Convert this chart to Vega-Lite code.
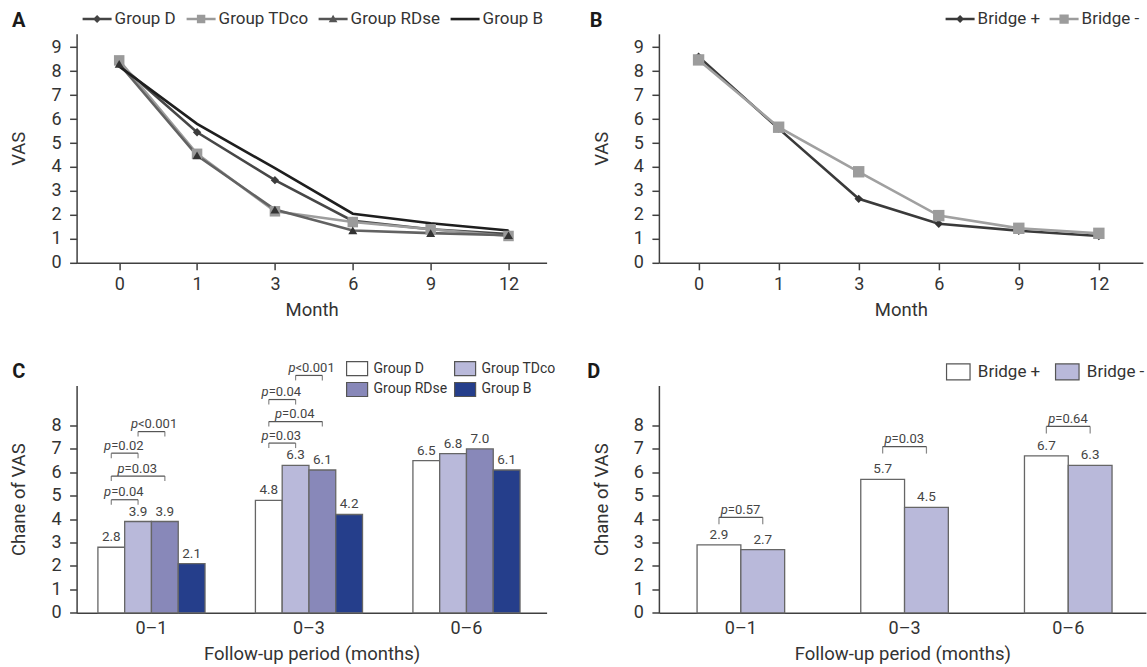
{
"$schema": "https://vega.github.io/schema/vega-lite/v6.json",
"background": "white",
"padding": {"left": 9.6, "top": 3.8, "right": 2, "bottom": 2},
"config": {
 "font": "Roboto",
 "view": {"stroke": null},
 "axis": {"domainColor": "#404040", "domainWidth": 1.5, "tickColor": "#404040", "tickWidth": 1.5, "tickSize": 7, "labelFontSize": 18, "labelColor": "#333333", "titleFontSize": 18.5, "titleFontWeight": "normal", "titleColor": "#333333", "grid": false, "labelPadding": 6, "labelFont": "Roboto", "titleFont": "Roboto"},
 "axisY": {"titlePadding": 22, "labelPadding": 8.5},
 "axisX": {"labelAngle": 0, "titlePadding": 7},
 "title": {"font": "Roboto", "fontSize": 20, "fontWeight": "bold", "color": "#1a1a1a"},
 "legend": {"labelFont": "Roboto", "labelColor": "#333333", "padding": 0},
 "text": {"font": "Roboto"}
},
"datasets": {
 "lineA": [
  {"month": 0, "group": "Group D", "vas": 8.3}, {"month": 1, "group": "Group D", "vas": 5.45}, {"month": 3, "group": "Group D", "vas": 3.45}, {"month": 6, "group": "Group D", "vas": 1.75}, {"month": 9, "group": "Group D", "vas": 1.4}, {"month": 12, "group": "Group D", "vas": 1.2},
  {"month": 0, "group": "Group TDco", "vas": 8.45}, {"month": 1, "group": "Group TDco", "vas": 4.55}, {"month": 3, "group": "Group TDco", "vas": 2.15}, {"month": 6, "group": "Group TDco", "vas": 1.7}, {"month": 9, "group": "Group TDco", "vas": 1.4}, {"month": 12, "group": "Group TDco", "vas": 1.12},
  {"month": 0, "group": "Group RDse", "vas": 8.3}, {"month": 1, "group": "Group RDse", "vas": 4.48}, {"month": 3, "group": "Group RDse", "vas": 2.22}, {"month": 6, "group": "Group RDse", "vas": 1.35}, {"month": 9, "group": "Group RDse", "vas": 1.24}, {"month": 12, "group": "Group RDse", "vas": 1.15},
  {"month": 0, "group": "Group B", "vas": 8.2}, {"month": 1, "group": "Group B", "vas": 5.8}, {"month": 3, "group": "Group B", "vas": 3.95}, {"month": 6, "group": "Group B", "vas": 2.05}, {"month": 9, "group": "Group B", "vas": 1.65}, {"month": 12, "group": "Group B", "vas": 1.35}
 ],
 "lineB": [
  {"month": 0, "group": "Bridge +", "vas": 8.6}, {"month": 1, "group": "Bridge +", "vas": 5.6}, {"month": 3, "group": "Bridge +", "vas": 2.67}, {"month": 6, "group": "Bridge +", "vas": 1.63}, {"month": 9, "group": "Bridge +", "vas": 1.34}, {"month": 12, "group": "Bridge +", "vas": 1.12},
  {"month": 0, "group": "Bridge -", "vas": 8.47}, {"month": 1, "group": "Bridge -", "vas": 5.66}, {"month": 3, "group": "Bridge -", "vas": 3.8}, {"month": 6, "group": "Bridge -", "vas": 1.97}, {"month": 9, "group": "Bridge -", "vas": 1.44}, {"month": 12, "group": "Bridge -", "vas": 1.23}
 ],
 "barC": [
  {"period": "0–1", "group": "Group D", "value": 2.8}, {"period": "0–1", "group": "Group TDco", "value": 3.9}, {"period": "0–1", "group": "Group RDse", "value": 3.9}, {"period": "0–1", "group": "Group B", "value": 2.1},
  {"period": "0–3", "group": "Group D", "value": 4.8}, {"period": "0–3", "group": "Group TDco", "value": 6.3}, {"period": "0–3", "group": "Group RDse", "value": 6.1}, {"period": "0–3", "group": "Group B", "value": 4.2},
  {"period": "0–6", "group": "Group D", "value": 6.5}, {"period": "0–6", "group": "Group TDco", "value": 6.8}, {"period": "0–6", "group": "Group RDse", "value": 7.0}, {"period": "0–6", "group": "Group B", "value": 6.1}
 ],
 "brC": [
  {"id": 1, "period": "0–1", "group": "Group D", "value": 4.83}, {"id": 1, "period": "0–1", "group": "Group TDco", "value": 4.83},
  {"id": 2, "period": "0–1", "group": "Group D", "value": 5.84}, {"id": 2, "period": "0–1", "group": "Group RDse", "value": 5.84},
  {"id": 3, "period": "0–1", "group": "Group D", "value": 6.82}, {"id": 3, "period": "0–1", "group": "Group TDco", "value": 6.82},
  {"id": 4, "period": "0–1", "group": "Group TDco", "value": 7.74}, {"id": 4, "period": "0–1", "group": "Group RDse", "value": 7.74},
  {"id": 5, "period": "0–3", "group": "Group D", "value": 7.25}, {"id": 5, "period": "0–3", "group": "Group TDco", "value": 7.25},
  {"id": 6, "period": "0–3", "group": "Group D", "value": 8.17}, {"id": 6, "period": "0–3", "group": "Group RDse", "value": 8.17},
  {"id": 7, "period": "0–3", "group": "Group D", "value": 9.11}, {"id": 7, "period": "0–3", "group": "Group TDco", "value": 9.11},
  {"id": 8, "period": "0–3", "group": "Group TDco", "value": 10.14}, {"id": 8, "period": "0–3", "group": "Group RDse", "value": 10.14}
 ],
 "lbC": [
  {"period": "0–1", "group": "Group D", "value": 4.83, "span": 1, "op": "=0.04"},
  {"period": "0–1", "group": "Group TDco", "value": 5.84, "span": 2, "op": "=0.03"},
  {"period": "0–1", "group": "Group D", "value": 6.82, "span": 1, "op": "=0.02"},
  {"period": "0–1", "group": "Group TDco", "value": 7.74, "span": 1, "op": "<0.001"},
  {"period": "0–3", "group": "Group D", "value": 7.25, "span": 1, "op": "=0.03"},
  {"period": "0–3", "group": "Group TDco", "value": 8.17, "span": 2, "op": "=0.04"},
  {"period": "0–3", "group": "Group D", "value": 9.11, "span": 1, "op": "=0.04"},
  {"period": "0–3", "group": "Group TDco", "value": 10.14, "span": 1, "op": "<0.001"}
 ],
 "barD": [
  {"period": "0–1", "group": "Bridge +", "value": 2.9}, {"period": "0–1", "group": "Bridge -", "value": 2.7},
  {"period": "0–3", "group": "Bridge +", "value": 5.7}, {"period": "0–3", "group": "Bridge -", "value": 4.5},
  {"period": "0–6", "group": "Bridge +", "value": 6.7}, {"period": "0–6", "group": "Bridge -", "value": 6.3}
 ],
 "brD": [
  {"id": 1, "period": "0–1", "group": "Bridge +", "value": 4.08}, {"id": 1, "period": "0–1", "group": "Bridge -", "value": 4.08},
  {"id": 2, "period": "0–3", "group": "Bridge +", "value": 7.1}, {"id": 2, "period": "0–3", "group": "Bridge -", "value": 7.1},
  {"id": 3, "period": "0–6", "group": "Bridge +", "value": 7.96}, {"id": 3, "period": "0–6", "group": "Bridge -", "value": 7.96}
 ],
 "lbD": [
  {"period": "0–1", "value": 4.08, "op": "=0.57"},
  {"period": "0–3", "value": 7.1, "op": "=0.03"},
  {"period": "0–6", "value": 7.96, "op": "=0.64"}
 ]
},
"bounds": "flush",
"columns": 2,
"spacing": {"row": 122.7, "column": 112.3},
"resolve": {
 "scale": {"color": "independent", "shape": "independent", "stroke": "independent", "xOffset": "independent", "x": "independent", "y": "independent"},
 "legend": {"color": "independent", "shape": "independent"}
},
"concat": [
  {
   "width": 470, "height": 229,
   "title": {"text": "A", "orient": "left", "anchor": "end", "frame": "group", "angle": 0, "baseline": "middle", "offset": 0, "dx": 29, "dy": -12.5},
   "data": {"name": "lineA"},
   "encoding": {
    "x": {"field": "month", "type": "ordinal", "scale": {"type": "point", "padding": 0.518, "align": 0.528}, "axis": {"title": "Month"}},
    "y": {"field": "vas", "type": "quantitative", "scale": {"domain": [0, 9.56], "nice": false, "zero": false}, "axis": {"title": "VAS", "values": [0,1,2,3,4,5,6,7,8,9]}}
   },
   "layer": [
    {"mark": {"type": "line", "strokeWidth": 2.6}, "encoding": {"stroke": {"field": "group", "type": "nominal", "scale": {"domain": ["Group B", "Group RDse", "Group TDco", "Group D"], "range": ["#1e1e1e", "#626262", "#9d9d9d", "#474747"]}, "legend": null}}},
    {"transform": [{"filter": "datum.group === 'Group D'"}], "mark": {"type": "point", "shape": "diamond", "filled": true, "size": 70, "color": "#3c3c3c", "opacity": 1}},
    {"transform": [{"filter": "datum.group === 'Group TDco'"}], "mark": {"type": "point", "shape": "square", "filled": true, "size": 110, "color": "#9a9a9a", "opacity": 1}},
    {"transform": [{"filter": "datum.group === 'Group RDse'"}], "mark": {"type": "point", "shape": "triangle-up", "filled": true, "size": 80, "color": "#333333", "opacity": 1}},
    {"mark": {"type": "point", "filled": true, "opacity": 0},
     "encoding": {
      "color": {"field": "group", "type": "nominal", "scale": {"domain": ["Group D", "Group TDco", "Group RDse", "Group B"], "range": ["#444444", "#9a9a9a", "#555555", "#1e1e1e"]},
       "legend": {"orient": "none", "legendX": 6, "legendY": -29.5, "direction": "horizontal", "title": null, "symbolSize": 841, "labelFontSize": 17, "labelOffset": 3, "columnPadding": 10, "symbolOpacity": 1, "symbolStrokeWidth": 0, "labelLimit": 300}},
      "shape": {"field": "group", "type": "nominal", "scale": {"domain": ["Group D", "Group TDco", "Group RDse", "Group B"], "range": ["M-1,-0.09H1V0.09H-1Z M0,-0.28L0.28,0L0,0.28L-0.28,0Z", "M-1,-0.09H1V0.09H-1Z M-0.29,-0.29H0.29V0.29H-0.29Z", "M-1,-0.09H1V0.09H-1Z M0,-0.3L0.3,0.22H-0.3Z", "M-1,-0.09H1V0.09H-1Z"]},
       "legend": {"orient": "none", "legendX": 6, "legendY": -29.5, "direction": "horizontal", "title": null, "symbolSize": 841, "labelFontSize": 17, "labelOffset": 3, "columnPadding": 10, "symbolOpacity": 1, "symbolStrokeWidth": 0, "labelLimit": 300}}
     }}
   ]
  },
  {
   "width": 484, "height": 229,
   "title": {"text": "B", "orient": "left", "anchor": "end", "frame": "group", "angle": 0, "baseline": "middle", "offset": 0, "dx": 23, "dy": -12.5},
   "data": {"name": "lineB"},
   "encoding": {
    "x": {"field": "month", "type": "ordinal", "scale": {"type": "point", "padding": 0.523, "align": 0.474}, "axis": {"title": "Month"}},
    "y": {"field": "vas", "type": "quantitative", "scale": {"domain": [0, 9.56], "nice": false, "zero": false}, "axis": {"title": "VAS", "values": [0,1,2,3,4,5,6,7,8,9]}}
   },
   "layer": [
    {"mark": {"type": "line", "strokeWidth": 2.6}, "encoding": {"stroke": {"field": "group", "type": "nominal", "scale": {"domain": ["Bridge -", "Bridge +"], "range": ["#a0a0a0", "#3a3a3a"]}, "legend": null}}},
    {"transform": [{"filter": "datum.group === 'Bridge +'"}], "mark": {"type": "point", "shape": "diamond", "filled": true, "size": 70, "color": "#333333", "opacity": 1}},
    {"transform": [{"filter": "datum.group === 'Bridge -'"}], "mark": {"type": "point", "shape": "square", "filled": true, "size": 130, "color": "#9c9c9c", "opacity": 1}},
    {"mark": {"type": "point", "filled": true, "opacity": 0},
     "encoding": {
      "color": {"field": "group", "type": "nominal", "scale": {"domain": ["Bridge +", "Bridge -"], "range": ["#3a3a3a", "#9c9c9c"]},
       "legend": {"orient": "none", "legendX": 286.7, "legendY": -29.5, "direction": "horizontal", "title": null, "symbolSize": 841, "labelFontSize": 17, "labelOffset": 3, "columnPadding": 9, "symbolOpacity": 1, "symbolStrokeWidth": 0, "labelLimit": 300}},
      "shape": {"field": "group", "type": "nominal", "scale": {"domain": ["Bridge +", "Bridge -"], "range": ["M-1,-0.09H1V0.09H-1Z M0,-0.28L0.28,0L0,0.28L-0.28,0Z", "M-1,-0.09H1V0.09H-1Z M-0.32,-0.32H0.32V0.32H-0.32Z"]},
       "legend": {"orient": "none", "legendX": 286.7, "legendY": -29.5, "direction": "horizontal", "title": null, "symbolSize": 841, "labelFontSize": 17, "labelOffset": 3, "columnPadding": 9, "symbolOpacity": 1, "symbolStrokeWidth": 0, "labelLimit": 300}}
     }}
   ]
  },
  {
   "width": 470, "height": 227.3,
   "title": {"text": "C", "orient": "left", "anchor": "end", "frame": "group", "angle": 0, "baseline": "middle", "offset": 0, "dx": 28.5, "dy": -13.5},
   "encoding": {
    "x": {"field": "period", "type": "nominal", "scale": {"type": "band", "paddingInner": 0.32, "paddingOuter": 0.152, "align": 0.445}, "axis": {"title": "Follow-up period (months)", "ticks": false, "labelPadding": 7}},
    "y": {"field": "value", "type": "quantitative", "scale": {"domain": [0, 9.71], "nice": false, "zero": false}, "axis": {"title": "Chane of VAS", "values": [0,1,2,3,4,5,6,7,8]}}
   },
   "layer": [
    {"data": {"name": "barC"}, "mark": {"type": "bar", "stroke": "#666666", "strokeWidth": 1.3},
     "encoding": {
      "xOffset": {"field": "group", "type": "nominal", "scale": {"domain": ["Group D", "Group TDco", "Group RDse", "Group B"], "paddingInner": 0, "paddingOuter": 0}},
      "color": {"field": "group", "type": "nominal", "scale": {"domain": ["Group D", "Group TDco", "Group RDse", "Group B"], "range": ["#ffffff", "#b9b9da", "#8888b9", "#253e8b"]},
       "legend": {"orient": "none", "legendX": 269, "legendY": -28.5, "columns": 2, "direction": "horizontal", "title": null, "symbolType": "M-1,-0.667H1V0.667H-1Z", "symbolSize": 441, "symbolStrokeColor": "#555555", "symbolStrokeWidth": 1.2, "labelFontSize": 14, "labelOffset": 5, "columnPadding": 4, "rowPadding": 0, "labelLimit": 300}}
     }},
    {"data": {"name": "barC"}, "mark": {"type": "text", "baseline": "bottom", "dy": -3, "fontSize": 13.5, "color": "#444444"},
     "encoding": {"xOffset": {"field": "group", "type": "nominal"}, "text": {"field": "value", "type": "quantitative", "format": ".1f"}}},
    {"data": {"name": "brC"}, "mark": {"type": "line", "color": "#555555", "strokeWidth": 1.2},
     "encoding": {"xOffset": {"field": "group", "type": "nominal"}, "detail": {"field": "id", "type": "nominal"}}},
    {"data": {"name": "brC"}, "mark": {"type": "tick", "orient": "vertical", "size": 5, "thickness": 1.2, "yOffset": 2.5, "color": "#555555"},
     "encoding": {"xOffset": {"field": "group", "type": "nominal"}}},
    {"data": {"name": "lbC"}, "transform": [{"filter": "datum.span === 1"}], "mark": {"type": "text", "align": "right", "baseline": "alphabetic", "dx": -0.1, "dy": -3.5, "fontSize": 13, "fontStyle": "italic", "color": "#444444"},
     "encoding": {"xOffset": {"field": "group", "type": "nominal"}, "text": {"value": "p"}}},
    {"data": {"name": "lbC"}, "transform": [{"filter": "datum.span === 1"}], "mark": {"type": "text", "align": "left", "baseline": "alphabetic", "dx": -0.1, "dy": -3.5, "fontSize": 13, "color": "#444444"},
     "encoding": {"xOffset": {"field": "group", "type": "nominal"}, "text": {"field": "op", "type": "nominal"}}},
    {"data": {"name": "lbC"}, "transform": [{"filter": "datum.span === 2"}], "mark": {"type": "text", "align": "right", "baseline": "alphabetic", "dx": -13.5, "dy": -3.5, "fontSize": 13, "fontStyle": "italic", "color": "#444444"},
     "encoding": {"xOffset": {"field": "group", "type": "nominal"}, "text": {"value": "p"}}},
    {"data": {"name": "lbC"}, "transform": [{"filter": "datum.span === 2"}], "mark": {"type": "text", "align": "left", "baseline": "alphabetic", "dx": -13.5, "dy": -3.5, "fontSize": 13, "color": "#444444"},
     "encoding": {"xOffset": {"field": "group", "type": "nominal"}, "text": {"field": "op", "type": "nominal"}}}
   ]
  },
  {
   "width": 487, "height": 227.3,
   "title": {"text": "D", "orient": "left", "anchor": "end", "frame": "group", "angle": 0, "baseline": "middle", "offset": 0, "dx": 21, "dy": -13.5},
   "encoding": {
    "x": {"field": "period", "type": "nominal", "scale": {"type": "band", "paddingInner": 0.465, "paddingOuter": 0.22, "align": 0.53}, "axis": {"title": "Follow-up period (months)", "ticks": false, "labelPadding": 7}},
    "y": {"field": "value", "type": "quantitative", "scale": {"domain": [0, 9.71], "nice": false, "zero": false}, "axis": {"title": "Chane of VAS", "values": [0,1,2,3,4,5,6,7,8]}}
   },
   "layer": [
    {"data": {"name": "barD"}, "mark": {"type": "bar", "stroke": "#666666", "strokeWidth": 1.3},
     "encoding": {
      "xOffset": {"field": "group", "type": "nominal", "scale": {"domain": ["Bridge +", "Bridge -"], "paddingInner": 0, "paddingOuter": 0}},
      "color": {"field": "group", "type": "nominal", "scale": {"domain": ["Bridge +", "Bridge -"], "range": ["#ffffff", "#b9b9da"]},
       "legend": {"orient": "none", "legendX": 286.9, "legendY": -26.1, "direction": "horizontal", "title": null, "symbolType": "M-1,-0.68H1V0.68H-1Z", "symbolSize": 552, "symbolStrokeColor": "#555555", "symbolStrokeWidth": 1.2, "labelFontSize": 17, "labelOffset": 7, "columnPadding": 12, "labelLimit": 300}}
     }},
    {"data": {"name": "barD"}, "mark": {"type": "text", "baseline": "bottom", "dy": -3, "fontSize": 13.5, "color": "#444444"},
     "encoding": {"xOffset": {"field": "group", "type": "nominal"}, "text": {"field": "value", "type": "quantitative", "format": ".1f"}}},
    {"data": {"name": "brD"}, "mark": {"type": "line", "color": "#555555", "strokeWidth": 1.2},
     "encoding": {"xOffset": {"field": "group", "type": "nominal"}, "detail": {"field": "id", "type": "nominal"}}},
    {"data": {"name": "brD"}, "mark": {"type": "tick", "orient": "vertical", "size": 7, "thickness": 1.2, "yOffset": 3.5, "color": "#555555"},
     "encoding": {"xOffset": {"field": "group", "type": "nominal"}}},
    {"data": {"name": "lbD"}, "mark": {"type": "text", "align": "right", "baseline": "alphabetic", "dx": -13, "dy": -3.5, "fontSize": 13, "fontStyle": "italic", "color": "#444444"},
     "encoding": {"text": {"value": "p"}}},
    {"data": {"name": "lbD"}, "mark": {"type": "text", "align": "left", "baseline": "alphabetic", "dx": -13, "dy": -3.5, "fontSize": 13, "color": "#444444"},
     "encoding": {"text": {"field": "op", "type": "nominal"}}}
   ]
  }
]
}
